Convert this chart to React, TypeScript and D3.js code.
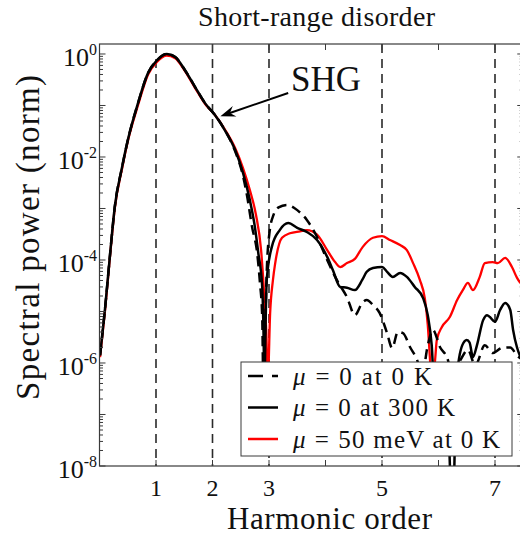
import React from 'react';
import * as d3 from 'd3';

// ---- data (harmonic order, normalised spectral power) ----
const harmonicTicks = [1, 2, 3, 4, 5, 6, 7];
const harmonicLabels = [1, 2, 3, 5, 7];
const oddHarmonicGuides = [1, 2, 3, 5, 7];
const decades = [-8, -7, -6, -5, -4, -3, -2, -1, 0];
const labeledDecades = [-8, -6, -4, -2, 0];

const seriesMu0At0K: [number, number][] = [
  [0.01, 1.4e-6], [0.10, 1.2e-5], [0.19, 1.4e-4], [0.27, 1.07e-3], [0.40, 6.4e-3], [0.50, 2.1e-2],
  [0.68, 0.11], [0.86, 0.43], [1.02, 0.76], [1.19, 1.0], [1.34, 0.87], [1.51, 0.49], [1.69, 0.23],
  [1.87, 0.11], [2.04, 0.066], [2.22, 0.033], [2.40, 0.013], [2.54, 4.3e-3], [2.61, 1.8e-3],
  [2.70, 4.4e-4], [2.79, 1.38e-4], [2.84, 3.6e-5], [2.88, 7.8e-6], [2.90, 4e-7], [2.93, 4e-6],
  [2.96, 6e-5], [3.01, 3.5e-4], [3.08, 7.5e-4], [3.17, 1.05e-3], [3.32, 1.17e-3], [3.50, 9.3e-4],
  [3.67, 6.0e-4], [3.85, 2.8e-4], [4.03, 1.0e-4], [4.20, 4.1e-5], [4.38, 1.9e-5], [4.52, 8.5e-6],
  [4.65, 1.47e-5], [4.73, 1.67e-5], [4.84, 1.34e-5], [4.96, 9.3e-6], [5.09, 3.8e-6], [5.18, 1.95e-6],
  [5.28, 4.0e-6], [5.37, 3.8e-6], [5.50, 2.0e-6], [5.62, 1.15e-6], [5.71, 5.9e-7], [5.81, 2.2e-6],
  [5.90, 4.4e-6], [6.03, 2.0e-6], [6.15, 1.3e-6], [6.25, 6e-7], [6.38, 1.1e-6], [6.52, 1.8e-6],
  [6.65, 9e-7], [6.82, 2.2e-6], [6.96, 1.56e-6], [7.12, 1.95e-6], [7.27, 2.0e-6], [7.39, 1.4e-6],
  [7.52, 1.1e-6],
];

const seriesMu0At300K: [number, number][] = [
  [0.01, 1.4e-6], [0.10, 1.2e-5], [0.19, 1.4e-4], [0.27, 1.07e-3], [0.40, 6.4e-3], [0.50, 2.1e-2],
  [0.68, 0.11], [0.86, 0.43], [1.02, 0.76], [1.19, 1.0], [1.34, 0.87], [1.51, 0.49], [1.69, 0.23],
  [1.87, 0.11], [2.04, 0.066], [2.22, 0.033], [2.40, 0.0138], [2.54, 4.9e-3], [2.66, 1.47e-3],
  [2.75, 4.4e-4], [2.81, 1.38e-4], [2.88, 3.0e-5], [2.90, 6e-6], [2.92, 4e-7], [2.94, 6e-6],
  [2.96, 4.1e-5], [3.05, 1.8e-4], [3.19, 3.8e-4], [3.34, 5.2e-4], [3.50, 4.2e-4], [3.67, 3.5e-4],
  [3.85, 2.45e-4], [4.03, 1.15e-4], [4.13, 6.4e-5], [4.26, 3.0e-5], [4.38, 2.9e-5], [4.52, 2.6e-5],
  [4.65, 4.1e-5], [4.73, 5.9e-5], [4.84, 7.0e-5], [5.00, 7.3e-5], [5.09, 5.9e-5], [5.19, 4.7e-5],
  [5.32, 5.6e-5], [5.44, 4.7e-5], [5.58, 3.0e-5], [5.73, 1.8e-5], [5.81, 8.5e-6], [5.88, 2.2e-6],
  [5.92, 4.7e-7], [6.03, 5.9e-7], [6.14, 3.7e-7], [6.25, 1e-9], [6.32, 4.7e-7], [6.42, 2.2e-6],
  [6.50, 2.8e-6], [6.55, 2.5e-6], [6.61, 1.3e-6], [6.68, 2.2e-6], [6.79, 6.8e-6], [6.86, 8.5e-6],
  [6.91, 7.8e-6], [7.00, 6.3e-6], [7.09, 1.07e-5], [7.18, 1.47e-5], [7.27, 1.07e-5], [7.32, 4.4e-6],
  [7.39, 2.0e-6], [7.44, 1.4e-6], [7.52, 1.0e-6],
];

const seriesMu50At0K: [number, number][] = [
  [0.01, 1.3e-6], [0.10, 1.1e-5], [0.19, 1.3e-4], [0.27, 1.0e-3], [0.40, 6.0e-3], [0.50, 2.0e-2],
  [0.68, 0.10], [0.86, 0.40], [1.02, 0.71], [1.19, 0.93], [1.34, 0.83], [1.51, 0.47], [1.69, 0.22],
  [1.87, 0.107], [2.04, 0.066], [2.22, 0.034], [2.40, 0.0149], [2.54, 6.1e-3], [2.66, 2.3e-3],
  [2.77, 7.5e-4], [2.86, 1.56e-4], [2.91, 2.6e-5], [2.95, 4.4e-6], [2.98, 5e-7], [3.02, 9.3e-6],
  [3.07, 4.1e-5], [3.11, 8.7e-5], [3.23, 2.7e-4], [3.37, 3.3e-4], [3.55, 3.6e-4], [3.67, 3.8e-4],
  [3.85, 3.1e-4], [4.03, 1.56e-4], [4.17, 9.1e-5], [4.26, 7.3e-5], [4.38, 8.7e-5], [4.52, 1.05e-4],
  [4.66, 1.8e-4], [4.84, 2.7e-4], [5.00, 2.9e-4], [5.14, 2.45e-4], [5.32, 1.95e-4], [5.44, 1.56e-4],
  [5.55, 8.7e-5], [5.67, 4.1e-5], [5.76, 1.74e-5], [5.81, 5.5e-6], [5.85, 1.15e-6], [5.88, 3e-7],
  [5.94, 1.15e-6], [5.97, 2.8e-6], [6.06, 5.0e-6], [6.20, 7.8e-6], [6.33, 1.67e-5], [6.43, 2.6e-5],
  [6.52, 3.6e-5], [6.61, 2.6e-5], [6.73, 4.7e-5], [6.82, 8.7e-5], [6.96, 9.1e-5], [7.05, 8.7e-5],
  [7.18, 1.1e-4], [7.30, 7.3e-5], [7.39, 4.5e-5], [7.44, 3.7e-5], [7.52, 3.2e-5],
];

const legendLabels = ['0 at 0 K', '0 at 300 K', '50 meV at 0 K'];
const shgTip: [number, number] = [2.14, 0.062];
const shgTail: [number, number] = [3.34, 0.175];
const shgText: [number, number] = [3.39, 0.19];

const FONT = '"Liberation Serif", "Times New Roman", serif';

export default function App() {
  const left = 99.5, right = 523.25, top = 44, bottom = 466;
  const x = d3.scaleLinear().domain([0, 7.5]).range([left, right]);
  const y = d3.scaleLog().domain([1e-8, 1.563]).range([bottom, top]);
  const line = d3
    .line<[number, number]>()
    .x((d) => x(d[0]))
    .y((d) => y(Math.max(d[1], 1e-12)))
    .curve(d3.curveMonotoneX);

  const axisColor = '#3a3a3a';
  const minorVals: number[] = [];
  decades.forEach((e) => {
    if (e < 0) for (let m = 2; m <= 9; m++) minorVals.push(m * Math.pow(10, e));
  });

  // arrow head geometry
  const tx = x(shgTip[0]), ty = y(shgTip[1]);
  const sx = x(shgTail[0]), sy = y(shgTail[1]);
  const len = Math.hypot(tx - sx, ty - sy);
  const ux = (tx - sx) / len, uy = (ty - sy) / len;
  const nx = -uy, ny = ux;
  const hl = 15, hw = 5.5;
  const headPath = `M${tx},${ty} L${tx - hl * ux + hw * nx},${ty - hl * uy + hw * ny} L${tx - 10 * ux},${ty - 10 * uy} L${tx - hl * ux - hw * nx},${ty - hl * uy - hw * ny} Z`;

  const legendRows = [
    { color: '#000', dash: '15,9', w: 139 },
    { color: '#000', dash: undefined, w: 162 },
    { color: '#ff0000', dash: undefined, w: 207 },
  ];

  return (
    <svg width={520} height={536} style={{ position: 'absolute', left: 0, top: 0, background: '#fff' }} fontFamily={FONT}>
      <defs>
        <clipPath id="plotClip">
          <rect x={left} y={top} width={right - left} height={bottom - top} />
        </clipPath>
      </defs>
      <rect x={0} y={0} width={520} height={536} fill="#fff" />

      {/* title */}
      <text x={198} y={26} fontSize={28} fill="#111" textLength={237} lengthAdjust="spacing">Short-range disorder</text>

      {/* harmonic guide lines */}
      {oddHarmonicGuides.map((h) => (
        <line key={'g' + h} x1={x(h)} x2={x(h)} y1={top} y2={bottom} stroke="#2a2a2a" strokeWidth={1.6} strokeDasharray="9,6" />
      ))}

      {/* curves */}
      <g clipPath="url(#plotClip)" fill="none" strokeLinejoin="round">
        <path d={line(seriesMu50At0K) || ''} stroke="#ff0000" strokeWidth={2.3} />
        <path d={line(seriesMu0At0K) || ''} stroke="#000" strokeWidth={2.5} strokeDasharray="10,6" />
        <path d={line(seriesMu0At300K) || ''} stroke="#000" strokeWidth={2.5} />
      </g>

      {/* frame */}
      <rect x={left} y={top} width={right - left} height={bottom - top} fill="none" stroke={axisColor} strokeWidth={1.2} />

      {/* y ticks */}
      {decades.map((e) => {
        const yy = y(Math.pow(10, e));
        return (
          <g key={'d' + e}>
            <line x1={left} x2={left + 6} y1={yy} y2={yy} stroke={axisColor} strokeWidth={1} />
            <line x1={right} x2={right - 6} y1={yy} y2={yy} stroke={axisColor} strokeWidth={1} />
          </g>
        );
      })}
      {minorVals.map((v, i) => {
        const yy = y(v);
        return (
          <g key={'m' + i}>
            <line x1={left} x2={left + 3.5} y1={yy} y2={yy} stroke={axisColor} strokeWidth={1} />
            <line x1={right} x2={right - 3.5} y1={yy} y2={yy} stroke={axisColor} strokeWidth={1} />
          </g>
        );
      })}
      {labeledDecades.map((e) => (
        <text key={'l' + e} x={97} y={y(Math.pow(10, e)) + 12} textAnchor="end" fontSize={26} fill="#111">
          10<tspan dy={-11} fontSize={16}>{String(e)}</tspan>
        </text>
      ))}

      {/* x ticks */}
      {harmonicTicks.map((h) => (
        <g key={'t' + h}>
          <line x1={x(h)} x2={x(h)} y1={bottom} y2={bottom - 6} stroke={axisColor} strokeWidth={1} />
          <line x1={x(h)} x2={x(h)} y1={top} y2={top + 6} stroke={axisColor} strokeWidth={1} />
        </g>
      ))}
      {harmonicLabels.map((h) => (
        <text key={'xl' + h} x={x(h)} y={496} textAnchor="middle" fontSize={24} fill="#111">{h}</text>
      ))}

      {/* axis labels */}
      <text x={227} y={529} fontSize={31} fill="#111" textLength={205} lengthAdjust="spacing">Harmonic order</text>
      <text transform="translate(39,400) rotate(-90)" fontSize={33} fill="#111" textLength={325} lengthAdjust="spacing">Spectral power (norm)</text>

      {/* SHG annotation */}
      <line x1={sx} y1={sy} x2={tx - 10 * ux} y2={ty - 10 * uy} stroke="#000" strokeWidth={2} />
      <path d={headPath} fill="#000" />
      <text x={x(shgText[0])} y={y(shgText[1])} fontSize={35} fill="#111">SHG</text>

      {/* legend */}
      <rect x={241} y={362} width={271} height={94} fill="#fff" stroke={axisColor} strokeWidth={1} />
      {legendRows.map((r, i) => {
        const ly = 376 + i * 31.5;
        return (
          <g key={'lg' + i}>
            <line x1={248} x2={278} y1={ly} y2={ly} stroke={r.color} strokeWidth={2.5} strokeDasharray={r.dash} />
            <text x={293} y={ly + 8.5} fontSize={25} fill="#111" textLength={r.w} lengthAdjust="spacing">
              <tspan fontStyle="italic">μ</tspan>
              <tspan dx={8}>=</tspan>
              <tspan dx={8}>{legendLabels[i]}</tspan>
            </text>
          </g>
        );
      })}
    </svg>
  );
}
